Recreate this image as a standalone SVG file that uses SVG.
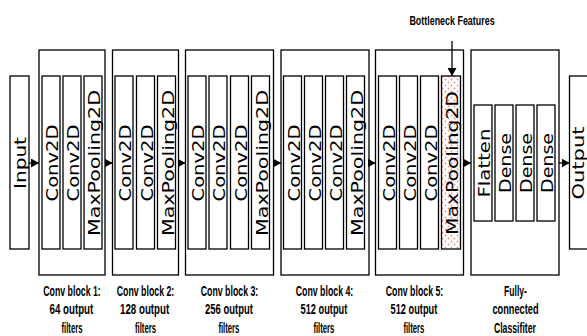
<svg xmlns="http://www.w3.org/2000/svg" width="587" height="336" viewBox="0 0 587 336">
<style>
.box{fill:#fff;stroke:#000;stroke-width:1.3}
.v{font-family:"DejaVu Sans",Verdana,sans-serif;font-size:15px;fill:#000;text-anchor:middle}
.lbl{font-family:"Liberation Sans",Arial,sans-serif;font-weight:bold;font-size:15px;fill:#000;text-anchor:middle}
.con{stroke:#000;stroke-width:1.3;fill:none;marker-end:url(#ah)}
</style>
<defs>
<marker id="ah" markerUnits="userSpaceOnUse" markerWidth="8" markerHeight="9" refX="8" refY="4.5" orient="auto">
<path d="M0,0 L8,4.5 L0,9 z" fill="#000"/>
</marker>
<pattern id="dots" patternUnits="userSpaceOnUse" width="6" height="6">
<rect width="6" height="6" fill="#fff"/>
<circle cx="1.5" cy="1.5" r="0.9" fill="#f08c8c"/>
<circle cx="4.5" cy="4.5" r="0.9" fill="#f08c8c"/>
</pattern>
</defs>

<g id="input">
<rect class="box" x="10" y="76" width="19" height="173"/>
<text class="v" transform="translate(26,163) rotate(-90)" textLength="52" lengthAdjust="spacingAndGlyphs">Input</text>
</g>

<g id="block1">
<rect class="box" x="39" y="50" width="66" height="225"/>
<rect class="box" x="42" y="76" width="18" height="173"/>
<text class="v" transform="translate(58,163) rotate(-90)" textLength="77" lengthAdjust="spacingAndGlyphs">Conv2D</text>
<rect class="box" x="63" y="76" width="18" height="173"/>
<text class="v" transform="translate(79,163) rotate(-90)" textLength="77" lengthAdjust="spacingAndGlyphs">Conv2D</text>
<rect class="box" x="84" y="76" width="18" height="173"/>
<text class="v" transform="translate(100,163) rotate(-90)" textLength="146" lengthAdjust="spacingAndGlyphs">MaxPooling2D</text>
<g transform="translate(72,0) scale(0.6,1)">
<text class="lbl" x="0" y="296" textLength="96" lengthAdjust="spacingAndGlyphs">Conv block 1:</text>
<text class="lbl" x="-1" y="314.5" textLength="73" lengthAdjust="spacingAndGlyphs">64 output</text>
<text class="lbl" x="0" y="333" textLength="35" lengthAdjust="spacingAndGlyphs">filters</text>
</g>
</g>

<g id="block2">
<rect class="box" x="112.5" y="50" width="66" height="225"/>
<rect class="box" x="115" y="76" width="18" height="173"/>
<text class="v" transform="translate(131,163) rotate(-90)" textLength="77" lengthAdjust="spacingAndGlyphs">Conv2D</text>
<rect class="box" x="136.5" y="76" width="18" height="173"/>
<text class="v" transform="translate(152.5,163) rotate(-90)" textLength="77" lengthAdjust="spacingAndGlyphs">Conv2D</text>
<rect class="box" x="157.5" y="76" width="18" height="173"/>
<text class="v" transform="translate(173.5,163) rotate(-90)" textLength="146" lengthAdjust="spacingAndGlyphs">MaxPooling2D</text>
<g transform="translate(145.5,0) scale(0.6,1)">
<text class="lbl" x="0" y="296" textLength="96" lengthAdjust="spacingAndGlyphs">Conv block 2:</text>
<text class="lbl" x="-1.5" y="314.5" textLength="82" lengthAdjust="spacingAndGlyphs">128 output</text>
<text class="lbl" x="0" y="333" textLength="35" lengthAdjust="spacingAndGlyphs">filters</text>
</g>
</g>

<g id="block3">
<rect class="box" x="185.5" y="50" width="88" height="225"/>
<rect class="box" x="188" y="76" width="18" height="173"/>
<text class="v" transform="translate(204,163) rotate(-90)" textLength="77" lengthAdjust="spacingAndGlyphs">Conv2D</text>
<rect class="box" x="209" y="76" width="18" height="173"/>
<text class="v" transform="translate(225,163) rotate(-90)" textLength="77" lengthAdjust="spacingAndGlyphs">Conv2D</text>
<rect class="box" x="230.5" y="76" width="18" height="173"/>
<text class="v" transform="translate(246.5,163) rotate(-90)" textLength="77" lengthAdjust="spacingAndGlyphs">Conv2D</text>
<rect class="box" x="251.5" y="76" width="18" height="173"/>
<text class="v" transform="translate(267.5,163) rotate(-90)" textLength="146" lengthAdjust="spacingAndGlyphs">MaxPooling2D</text>
<g transform="translate(229.5,0) scale(0.6,1)">
<text class="lbl" x="0" y="296" textLength="96" lengthAdjust="spacingAndGlyphs">Conv block 3:</text>
<text class="lbl" x="-1" y="314.5" textLength="80" lengthAdjust="spacingAndGlyphs">256 output</text>
<text class="lbl" x="-1" y="333" textLength="35" lengthAdjust="spacingAndGlyphs">filters</text>
</g>
</g>

<g id="block4">
<rect class="box" x="281" y="50" width="88" height="225"/>
<rect class="box" x="283.5" y="76" width="18" height="173"/>
<text class="v" transform="translate(299.5,163) rotate(-90)" textLength="77" lengthAdjust="spacingAndGlyphs">Conv2D</text>
<rect class="box" x="304.5" y="76" width="18" height="173"/>
<text class="v" transform="translate(320.5,163) rotate(-90)" textLength="77" lengthAdjust="spacingAndGlyphs">Conv2D</text>
<rect class="box" x="325.5" y="76" width="18" height="173"/>
<text class="v" transform="translate(341.5,163) rotate(-90)" textLength="77" lengthAdjust="spacingAndGlyphs">Conv2D</text>
<rect class="box" x="346.5" y="76" width="18" height="173"/>
<text class="v" transform="translate(362.5,163) rotate(-90)" textLength="146" lengthAdjust="spacingAndGlyphs">MaxPooling2D</text>
<g transform="translate(324.5,0) scale(0.6,1)">
<text class="lbl" x="0" y="296" textLength="96" lengthAdjust="spacingAndGlyphs">Conv block 4:</text>
<text class="lbl" x="-1" y="314.5" textLength="78" lengthAdjust="spacingAndGlyphs">512 output</text>
<text class="lbl" x="-1" y="333" textLength="35" lengthAdjust="spacingAndGlyphs">filters</text>
</g>
</g>

<g id="block5">
<rect class="box" x="375.5" y="50" width="88" height="225"/>
<rect class="box" x="378.5" y="76" width="18" height="173"/>
<text class="v" transform="translate(394.5,163) rotate(-90)" textLength="77" lengthAdjust="spacingAndGlyphs">Conv2D</text>
<rect class="box" x="399.5" y="76" width="18" height="173"/>
<text class="v" transform="translate(415.5,163) rotate(-90)" textLength="77" lengthAdjust="spacingAndGlyphs">Conv2D</text>
<rect class="box" x="420.5" y="76" width="18" height="173"/>
<text class="v" transform="translate(436.5,163) rotate(-90)" textLength="77" lengthAdjust="spacingAndGlyphs">Conv2D</text>
<rect class="box" x="441.5" y="76" width="19" height="173" style="fill:url(#dots)"/>
<text class="v" transform="translate(458,163) rotate(-90)" textLength="144" lengthAdjust="spacingAndGlyphs">MaxPooling2D</text>
<g transform="translate(414.5,0) scale(0.6,1)">
<text class="lbl" x="0" y="296" textLength="96" lengthAdjust="spacingAndGlyphs">Conv block 5:</text>
<text class="lbl" x="-1" y="314.5" textLength="78" lengthAdjust="spacingAndGlyphs">512 output</text>
<text class="lbl" x="-1" y="333" textLength="35" lengthAdjust="spacingAndGlyphs">filters</text>
</g>
</g>

<g id="classifier">
<rect class="box" x="471" y="50" width="88" height="225"/>
<rect class="box" x="474" y="105" width="18" height="116"/>
<text class="v" transform="translate(490,163) rotate(-90)" textLength="69" lengthAdjust="spacingAndGlyphs">Flatten</text>
<rect class="box" x="495" y="105" width="18" height="116"/>
<text class="v" transform="translate(511,163) rotate(-90)" textLength="60" lengthAdjust="spacingAndGlyphs">Dense</text>
<rect class="box" x="516" y="105" width="18" height="116"/>
<text class="v" transform="translate(532,163) rotate(-90)" textLength="60" lengthAdjust="spacingAndGlyphs">Dense</text>
<rect class="box" x="537" y="105" width="18" height="116"/>
<text class="v" transform="translate(553,163) rotate(-90)" textLength="60" lengthAdjust="spacingAndGlyphs">Dense</text>
<g transform="translate(515.5,0) scale(0.6,1)">
<text class="lbl" x="0" y="296" textLength="38" lengthAdjust="spacingAndGlyphs">Fully-</text>
<text class="lbl" x="0" y="314.5" textLength="77" lengthAdjust="spacingAndGlyphs">connected</text>
<text class="lbl" x="-1" y="333" textLength="70" lengthAdjust="spacingAndGlyphs">Classifiter</text>
</g>
</g>

<g id="output">
<rect class="box" x="569.5" y="76" width="19" height="173"/>
<text class="v" transform="translate(583.5,163) rotate(-90)" textLength="73" lengthAdjust="spacingAndGlyphs">Output</text>
</g>

<g id="bottleneck-label">
<g transform="translate(452,0) scale(0.6,1)">
<text class="lbl" x="0" y="25" style="font-size:13px" textLength="142" lengthAdjust="spacingAndGlyphs">Bottleneck Features</text>
</g>
</g>

<g id="connectors">
<line class="con" x1="29" y1="163" x2="39" y2="163"/>
<line class="con" x1="105" y1="163" x2="112.5" y2="163"/>
<line class="con" x1="178.5" y1="163" x2="185.5" y2="163"/>
<line class="con" x1="273.5" y1="163" x2="281" y2="163"/>
<line class="con" x1="369" y1="163" x2="375.5" y2="163"/>
<line class="con" x1="463.5" y1="163" x2="471" y2="163"/>
<line class="con" x1="559" y1="163" x2="569.5" y2="163"/>
<line class="con" x1="452" y1="41" x2="452" y2="76"/>
</g>
</svg>
